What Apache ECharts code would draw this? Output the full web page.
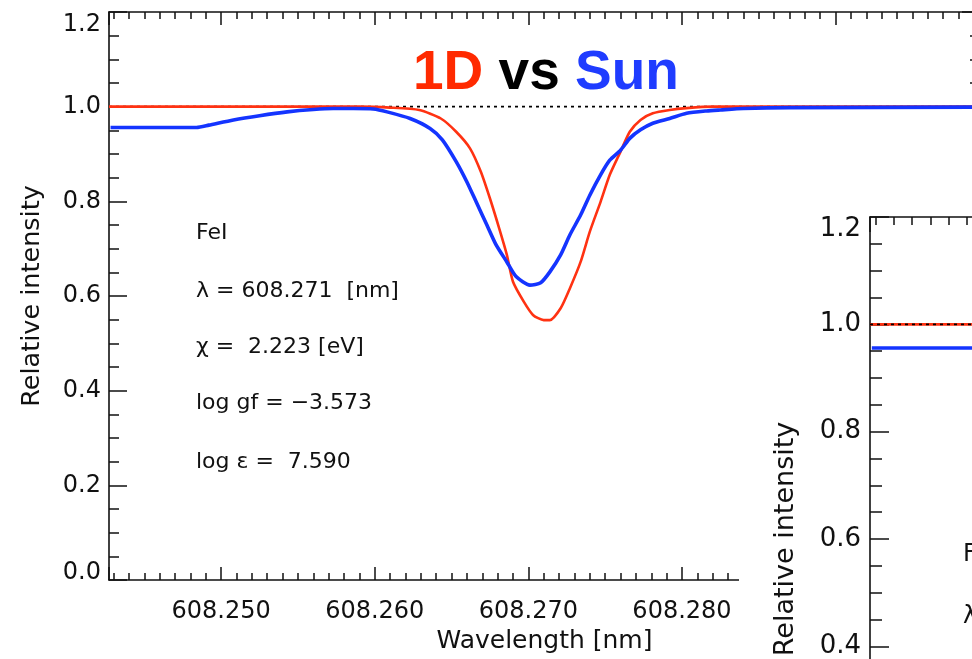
<!DOCTYPE html>
<html><head><meta charset="utf-8">
<script src="https://cdn.jsdelivr.net/npm/echarts@6/dist/echarts.min.js"></script>
<style>html,body{margin:0;padding:0;background:#fff}#c{width:972px;height:659px}</style>
</head><body><div id="c"></div>
<script>
// ---- data ----
const wave1D = [608.2427, 608.2590, 608.2610, 608.2629, 608.2643, 608.2653, 608.2662, 608.2669, 608.2675, 608.2681,
                608.2686, 608.2690, 608.2697, 608.2703, 608.2710, 608.2714, 608.2721, 608.2727, 608.2734, 608.2740,
                608.2747, 608.2753, 608.2760, 608.2766, 608.2773, 608.2781, 608.2792, 608.2803, 608.2820, 608.2994];
const flux1D = [1.000, 1.000, 0.998, 0.993, 0.975, 0.947, 0.912, 0.863, 0.806, 0.743,
                0.687, 0.630, 0.588, 0.560, 0.549, 0.549, 0.574, 0.616, 0.672, 0.736,
                0.799, 0.856, 0.905, 0.947, 0.972, 0.986, 0.993, 0.997, 1.000, 1.000];
const waveSun = [608.2428, 608.2484, 608.2492, 608.2508, 608.2525, 608.2543, 608.2560, 608.2573, 608.2586, 608.2599,
                 608.2608, 608.2623, 608.2636, 608.2644, 608.2653, 608.2660, 608.2666, 608.2673, 608.2679, 608.2686,
                 608.2692, 608.2701, 608.2708, 608.2714, 608.2721, 608.2727, 608.2734, 608.2740, 608.2747, 608.2753,
                 608.2760, 608.2766, 608.2773, 608.2781, 608.2792, 608.2803, 608.2816, 608.2825, 608.2840, 608.2870, 608.2994];
const fluxSun = [0.956, 0.956, 0.961, 0.972, 0.981, 0.989, 0.994, 0.996, 0.996, 0.995,
                 0.989, 0.975, 0.954, 0.930, 0.884, 0.841, 0.799, 0.750, 0.708, 0.672,
                 0.641, 0.623, 0.628, 0.651, 0.687, 0.729, 0.771, 0.813, 0.856, 0.887,
                 0.908, 0.933, 0.951, 0.965, 0.975, 0.986, 0.991, 0.993, 0.996, 0.998, 0.999];
// second (partly hidden) panel: only its flat left part is visible
const waveInsetModel = [608.2427, 608.2500];
const fluxInsetModel = [1.000, 1.000];
const continuumWave = [608.2427, 608.2994];
const continuumFlux = [1.0, 1.0];
const xRange = [608.2427, 608.2994];
const yRange = [0, 1.2];
const yStep = 0.2;
const titleParts = ['1D', 'vs', 'Sun'];
const lineInfo = ['FeI', 'λ = 608.271  [nm]', 'χ =  2.223 [eV]', 'log gf = −3.573', 'log ε =  7.590'];
const xName = 'Wavelength [nm]';
const yName = 'Relative intensity';

// ---- helpers ----
const zip = (a, b) => a.map((v, i) => [v, b[i]]);
const RED = '#ff3212', BLUE = '#1434ff', INK = '#111';
const FONT = 'DejaVu Sans';

function yFmt(v) {
  if (Math.abs(v - yRange[1]) < 1e-9) return '{t|' + v.toFixed(1) + '}';
  if (Math.abs(v - yRange[0]) < 1e-9) return '{b|' + v.toFixed(1) + '}';
  return '{n|' + v.toFixed(1) + '}';
}
function yLabel(size, shiftTop, shiftBot, margin) {
  const base = {fontFamily: FONT, fontSize: size, color: INK};
  return {show: true, margin: margin, formatter: yFmt,
    rich: {n: base, t: Object.assign({padding: [shiftTop, 0, 0, 0]}, base), b: Object.assign({padding: [0, 0, shiftBot, 0]}, base)}};
}
function xAx(grid, pos, showLabels, majorLen, minorLen, z, extra) {
  return Object.assign({
    type: 'value', gridIndex: grid, position: pos, min: xRange[0], max: xRange[1], z: z,
    axisLine: {show: true, onZero: false, lineStyle: {color: INK, width: 1.6}},
    axisTick: {show: true, inside: true, length: majorLen, lineStyle: {color: INK, width: 1.5}},
    minorTick: {show: true, splitNumber: 10, length: minorLen, lineStyle: {color: INK, width: 1.5}},
    splitLine: {show: false}, minorSplitLine: {show: false},
    axisLabel: showLabels ? {show: true, margin: 20, fontFamily: FONT, fontSize: 24, color: INK,
      showMinLabel: false, showMaxLabel: false, formatter: v => v.toFixed(3)} : {show: false}
  }, extra || {});
}
function yAx(grid, pos, label, majorLen, minorLen, z, extra) {
  return Object.assign({
    type: 'value', gridIndex: grid, position: pos, min: yRange[0], max: yRange[1], interval: yStep, z: z,
    axisLine: {show: true, onZero: false, lineStyle: {color: INK, width: 1.6}},
    axisTick: {show: true, inside: true, length: majorLen, lineStyle: {color: INK, width: 1.5}},
    minorTick: {show: true, splitNumber: 4, length: minorLen, lineStyle: {color: INK, width: 1.5}},
    splitLine: {show: false}, minorSplitLine: {show: false},
    axisLabel: label || {show: false}
  }, extra || {});
}

const chart = echarts.init(document.getElementById('c'), null, {renderer: 'canvas'});
const graphics = [
  {type: 'rect', shape: {x: 739, y: 113, width: 260, height: 560}, style: {fill: '#fff'}, z: 50}
];
const infoY = [233, 291, 347, 403, 462];
lineInfo.forEach((t, i) => graphics.push({type: 'text', x: 196, y: infoY[i], z: 100,
  style: {text: t, fontFamily: FONT, fontSize: 22, fill: INK, textVerticalAlign: 'middle'}}));
// inset (clipped) annotation
[[lineInfo[0], 555], [lineInfo[1], 617]].forEach(p => graphics.push({type: 'text', x: 963, y: p[1], z: 100,
  style: {text: p[0], fontFamily: FONT, fontSize: 24, fill: INK, textVerticalAlign: 'middle'}}));

const lineCommon = {type: 'line', showSymbol: false, smooth: 0.22};

chart.setOption({
  backgroundColor: '#fff',
  animation: false,
  title: {
    text: '{r|' + titleParts[0] + ' }{k|' + titleParts[1] + ' }{b|' + titleParts[2] + '}',
    left: 408, top: 41,
    textStyle: {rich: {
      r: {color: '#ff2a00', fontSize: 55, fontWeight: 'bold', fontFamily: 'Liberation Sans'},
      k: {color: '#000', fontSize: 55, fontWeight: 'bold', fontFamily: 'Liberation Sans'},
      b: {color: '#1f3cff', fontSize: 55, fontWeight: 'bold', fontFamily: 'Liberation Sans'}
    }}
  },
  grid: [
    {left: 109, top: 12, width: 871, height: 568, outerBoundsMode: 'none', containLabel: false},
    {left: 870, top: 217, width: 1038, height: 644, outerBoundsMode: 'none', containLabel: false}
  ],
  xAxis: [
    xAx(0, 'bottom', true, 13, 7, 0, {name: xName, nameLocation: 'middle', nameGap: 49,
      nameTextStyle: {fontFamily: FONT, fontSize: 25, color: INK}}),
    xAx(0, 'top', false, 13, 7, 0),
    xAx(1, 'bottom', true, 15, 8, 60),
    xAx(1, 'top', false, 15, 8, 60)
  ],
  yAxis: [
    yAx(0, 'left', yLabel(24, 26, 14, 8), 18, 10, 0, {name: yName, nameLocation: 'middle', nameGap: 64, nameRotate: 90,
      nameTextStyle: {fontFamily: FONT, fontSize: 25.5, color: INK}}),
    yAx(0, 'right', null, 18, 10, 0),
    yAx(1, 'left', yLabel(26, 24, 16, 9), 19, 12, 60, {name: yName, nameLocation: 'middle', nameGap: 71, nameRotate: 90,
      nameTextStyle: {fontFamily: FONT, fontSize: 27, color: INK}})
  ],
  series: [
    Object.assign({}, lineCommon, {name: 'continuum', xAxisIndex: 0, yAxisIndex: 0, data: zip(continuumWave, continuumFlux),
      smooth: false, z: 2, lineStyle: {color: '#000', width: 1.6, type: [3, 4]}}),
    Object.assign({}, lineCommon, {name: '1D', xAxisIndex: 0, yAxisIndex: 0, data: zip(wave1D, flux1D),
      z: 3, lineStyle: {color: RED, width: 2.6, join: 'round'}}),
    Object.assign({}, lineCommon, {name: 'Sun', xAxisIndex: 0, yAxisIndex: 0, data: zip(waveSun, fluxSun),
      z: 4, lineStyle: {color: BLUE, width: 3.6, join: 'round'}}),
    Object.assign({}, lineCommon, {name: 'model (inset)', xAxisIndex: 2, yAxisIndex: 2, data: zip(waveInsetModel, fluxInsetModel),
      smooth: false, z: 61, lineStyle: {color: RED, width: 2.6}}),
    Object.assign({}, lineCommon, {name: 'continuum (inset)', xAxisIndex: 2, yAxisIndex: 2, data: zip(continuumWave, continuumFlux),
      smooth: false, z: 62, lineStyle: {color: '#000', width: 1.6, type: [3, 4]}}),
    Object.assign({}, lineCommon, {name: 'Sun (inset)', xAxisIndex: 2, yAxisIndex: 2, data: zip(waveSun, fluxSun),
      z: 63, lineStyle: {color: BLUE, width: 3.6, join: 'round'}})
  ],
  graphic: graphics
});
</script></body></html>
